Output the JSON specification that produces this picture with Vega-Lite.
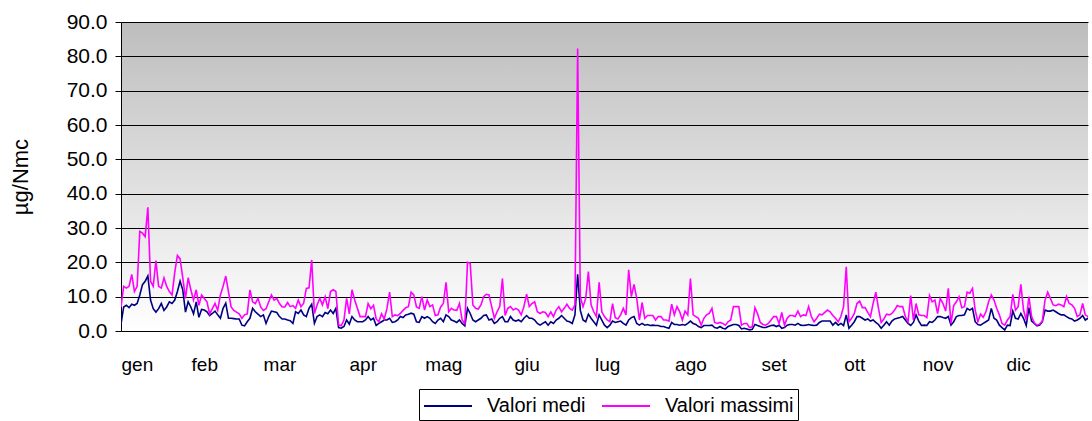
{"$schema":"https://vega.github.io/schema/vega-lite/v6.json","width":967,"height":309,"autosize":"none","padding":{"left":121,"top":22,"right":4,"bottom":90},"background":"white",
"config":{"font":"Liberation Sans","view":{"stroke":null,"fill":{"gradient":"linear","x1":0,"y1":0,"x2":0,"y2":1,"stops":[{"offset":0,"color":"#bdbdbd"},{"offset":1,"color":"#ffffff"}]}}},
"data":{"values":[
{"g":1,"medi":2,"massimi":7},{"g":2,"medi":7,"massimi":13},{"g":3,"medi":7.5,"massimi":12.5},{"g":4,"medi":6.8,"massimi":13},{"g":5,"medi":7.8,"massimi":16.5},{"g":6,"medi":7.5,"massimi":11.5},{"g":7,"medi":8,"massimi":13},{"g":8,"medi":10.5,"massimi":29},{"g":9,"medi":13.5,"massimi":28.5},{"g":10,"medi":14.5,"massimi":27.5},
{"g":11,"medi":16,"massimi":36},{"g":12,"medi":9,"massimi":14.5},{"g":13,"medi":6.5,"massimi":13},{"g":14,"medi":5.5,"massimi":20.5},{"g":15,"medi":6.5,"massimi":13},{"g":16,"medi":8,"massimi":12.5},{"g":17,"medi":6,"massimi":15.5},{"g":18,"medi":7,"massimi":13},{"g":19,"medi":8.5,"massimi":11.5},{"g":20,"medi":8,"massimi":10.5},
{"g":21,"medi":9,"massimi":17},{"g":22,"medi":11.5,"massimi":22},{"g":23,"medi":14.5,"massimi":21},{"g":24,"medi":12,"massimi":15.5},{"g":25,"medi":5.5,"massimi":9.5},{"g":26,"medi":8.5,"massimi":15.5},{"g":27,"medi":7,"massimi":12},{"g":28,"medi":5,"massimi":9},{"g":29,"medi":8.5,"massimi":12},{"g":30,"medi":4,"massimi":7.5},
{"g":31,"medi":6.3,"massimi":10.5},{"g":32,"medi":6.1,"massimi":9.5},{"g":33,"medi":5.6,"massimi":8.5},{"g":34,"medi":4.5,"massimi":5},{"g":35,"medi":5.1,"massimi":6.5},{"g":36,"medi":5.8,"massimi":8},{"g":37,"medi":4.7,"massimi":6},{"g":38,"medi":3.7,"massimi":10.5},{"g":39,"medi":6.6,"massimi":13},{"g":40,"medi":8.1,"massimi":16},
{"g":41,"medi":3.7,"massimi":11.5},{"g":42,"medi":3.7,"massimi":7},{"g":43,"medi":3.6,"massimi":6},{"g":44,"medi":3.5,"massimi":5.5},{"g":45,"medi":3.5,"massimi":5},{"g":46,"medi":1.7,"massimi":3.7},{"g":47,"medi":1.5,"massimi":4.7},{"g":48,"medi":2.7,"massimi":5},{"g":49,"medi":3.7,"massimi":12},{"g":50,"medi":6.6,"massimi":8.5},
{"g":51,"medi":5.6,"massimi":8},{"g":52,"medi":4.9,"massimi":9.5},{"g":53,"medi":4.2,"massimi":7},{"g":54,"medi":4.7,"massimi":6},{"g":55,"medi":2.2,"massimi":6.5},{"g":56,"medi":4.2,"massimi":8.5},{"g":57,"medi":5.8,"massimi":10.5},{"g":58,"medi":5.6,"massimi":9},{"g":59,"medi":5.4,"massimi":9.5},{"g":60,"medi":4.2,"massimi":8},
{"g":61,"medi":3.5,"massimi":7},{"g":62,"medi":3.5,"massimi":7},{"g":63,"medi":3.2,"massimi":8.3},{"g":64,"medi":3,"massimi":7.1},{"g":65,"medi":2.2,"massimi":7.4},{"g":66,"medi":5.6,"massimi":6.6},{"g":67,"medi":5.1,"massimi":9},{"g":68,"medi":6.1,"massimi":7.1},{"g":69,"medi":4.7,"massimi":8.1},{"g":70,"medi":4.2,"massimi":12.4},
{"g":71,"medi":6.6,"massimi":12.6},{"g":72,"medi":7.8,"massimi":20.7},{"g":73,"medi":2.2,"massimi":5.1},{"g":74,"medi":4.2,"massimi":7.6},{"g":75,"medi":4.7,"massimi":9.5},{"g":76,"medi":4.2,"massimi":7.6},{"g":77,"medi":5.4,"massimi":10},{"g":78,"medi":5,"massimi":6.5},{"g":79,"medi":6.1,"massimi":11.5},{"g":80,"medi":5.1,"massimi":12},
{"g":81,"medi":6.6,"massimi":11.5},{"g":82,"medi":1,"massimi":1.8},{"g":83,"medi":0.8,"massimi":1.5},{"g":84,"medi":1.3,"massimi":3.2},{"g":85,"medi":3.2,"massimi":9.5},{"g":86,"medi":2,"massimi":5},{"g":87,"medi":4.2,"massimi":12},{"g":88,"medi":3.2,"massimi":9},{"g":89,"medi":2.7,"massimi":6.6},{"g":90,"medi":2.7,"massimi":4.2},
{"g":91,"medi":2.7,"massimi":4.2},{"g":92,"medi":3.2,"massimi":4.2},{"g":93,"medi":4.2,"massimi":8},{"g":94,"medi":3.2,"massimi":6.5},{"g":95,"medi":3.7,"massimi":7.5},{"g":96,"medi":1.6,"massimi":3.5},{"g":97,"medi":2.2,"massimi":2.7},{"g":98,"medi":2.7,"massimi":5},{"g":99,"medi":3.2,"massimi":3.5},{"g":100,"medi":3.2,"massimi":6.5},
{"g":101,"medi":3.7,"massimi":11.3},{"g":102,"medi":2.5,"massimi":4.2},{"g":103,"medi":2.7,"massimi":4.7},{"g":104,"medi":3.2,"massimi":4.5},{"g":105,"medi":4.2,"massimi":5.1},{"g":106,"medi":3.9,"massimi":6},{"g":107,"medi":4.7,"massimi":6.8},{"g":108,"medi":4.9,"massimi":7.1},{"g":109,"medi":5.2,"massimi":11.3},{"g":110,"medi":4.9,"massimi":10.5},
{"g":111,"medi":2.7,"massimi":7},{"g":112,"medi":2.5,"massimi":6.6},{"g":113,"medi":4.2,"massimi":10},{"g":114,"medi":3.7,"massimi":6.1},{"g":115,"medi":4.2,"massimi":9},{"g":116,"medi":3.7,"massimi":7.1},{"g":117,"medi":2.7,"massimi":7.6},{"g":118,"medi":2.2,"massimi":4.5},{"g":119,"medi":3.2,"massimi":4.7},{"g":120,"medi":3.7,"massimi":7},
{"g":121,"medi":2.7,"massimi":8},{"g":122,"medi":4.7,"massimi":14.2},{"g":123,"medi":4.2,"massimi":5.6},{"g":124,"medi":3.2,"massimi":6.6},{"g":125,"medi":2.9,"massimi":6.1},{"g":126,"medi":2.5,"massimi":6},{"g":127,"medi":3.2,"massimi":8},{"g":128,"medi":2.2,"massimi":3.2},{"g":129,"medi":1.5,"massimi":2.2},{"g":130,"medi":6.6,"massimi":20},
{"g":131,"medi":5.1,"massimi":19.7},{"g":132,"medi":3.2,"massimi":7.6},{"g":133,"medi":2.7,"massimi":6.6},{"g":134,"medi":3.2,"massimi":6.4},{"g":135,"medi":3.7,"massimi":7.6},{"g":136,"medi":4.5,"massimi":10},{"g":137,"medi":4.7,"massimi":10.7},{"g":138,"medi":3.2,"massimi":10.5},{"g":139,"medi":3.5,"massimi":7.1},{"g":140,"medi":2.2,"massimi":3.7},
{"g":141,"medi":2.7,"massimi":5.6},{"g":142,"medi":3.7,"massimi":7.1},{"g":143,"medi":4.2,"massimi":15.3},{"g":144,"medi":2.7,"massimi":4.5},{"g":145,"medi":2.7,"massimi":6.6},{"g":146,"medi":4.2,"massimi":7.1},{"g":147,"medi":3.2,"massimi":6.1},{"g":148,"medi":2.9,"massimi":6.6},{"g":149,"medi":3.2,"massimi":6.1},{"g":150,"medi":2.7,"massimi":4.7},
{"g":151,"medi":3.7,"massimi":7.1},{"g":152,"medi":4.5,"massimi":10.7},{"g":153,"medi":3.7,"massimi":7.1},{"g":154,"medi":3.7,"massimi":8},{"g":155,"medi":3.2,"massimi":8.5},{"g":156,"medi":2.2,"massimi":5.6},{"g":157,"medi":1.7,"massimi":5.1},{"g":158,"medi":2.2,"massimi":5.6},{"g":159,"medi":2.7,"massimi":5.4},{"g":160,"medi":1.7,"massimi":4.2},
{"g":161,"medi":2.7,"massimi":5.6},{"g":162,"medi":2.2,"massimi":4.2},{"g":163,"medi":3.2,"massimi":6.1},{"g":164,"medi":3.7,"massimi":7.1},{"g":165,"medi":4.5,"massimi":5.6},{"g":166,"medi":3.7,"massimi":6.6},{"g":167,"medi":2.9,"massimi":7.8},{"g":168,"medi":2.7,"massimi":6.6},{"g":169,"medi":2.2,"massimi":6.1},{"g":170,"medi":4.7,"massimi":7.6},
{"g":171,"medi":16.5,"massimi":82.3},{"g":172,"medi":6,"massimi":10},{"g":173,"medi":3.2,"massimi":7.1},{"g":174,"medi":2.7,"massimi":9.5},{"g":175,"medi":4.9,"massimi":17.3},{"g":176,"medi":3.7,"massimi":7.6},{"g":177,"medi":2.7,"massimi":5.6},{"g":178,"medi":1.7,"massimi":4.2},{"g":179,"medi":4.7,"massimi":14.2},{"g":180,"medi":3.2,"massimi":5.6},
{"g":181,"medi":1.7,"massimi":4.2},{"g":182,"medi":1,"massimi":3.2},{"g":183,"medi":1.7,"massimi":2.7},{"g":184,"medi":2.9,"massimi":8},{"g":185,"medi":2.5,"massimi":3.9},{"g":186,"medi":2.7,"massimi":3.5},{"g":187,"medi":2.9,"massimi":4.7},{"g":188,"medi":2.2,"massimi":6.6},{"g":189,"medi":1.7,"massimi":4.7},{"g":190,"medi":3.2,"massimi":17.8},
{"g":191,"medi":3.9,"massimi":10},{"g":192,"medi":4.2,"massimi":13.6},{"g":193,"medi":2.2,"massimi":9.5},{"g":194,"medi":1.7,"massimi":3.2},{"g":195,"medi":2.2,"massimi":8.3},{"g":196,"medi":1.7,"massimi":3.7},{"g":197,"medi":1.9,"massimi":4.5},{"g":198,"medi":1.6,"massimi":4.5},{"g":199,"medi":1.7,"massimi":4.5},{"g":200,"medi":1.6,"massimi":3.2},
{"g":201,"medi":1.6,"massimi":4.2},{"g":202,"medi":1.3,"massimi":4.2},{"g":203,"medi":1.3,"massimi":3.2},{"g":204,"medi":1,"massimi":3.2},{"g":205,"medi":0.8,"massimi":2.9},{"g":206,"medi":2.5,"massimi":7.8},{"g":207,"medi":1.9,"massimi":4.7},{"g":208,"medi":1.9,"massimi":7.1},{"g":209,"medi":1.7,"massimi":5.6},{"g":210,"medi":1.9,"massimi":3.2},
{"g":211,"medi":1.7,"massimi":5.8},{"g":212,"medi":2.2,"massimi":4.7},{"g":213,"medi":2.9,"massimi":15.3},{"g":214,"medi":2.2,"massimi":4.7},{"g":215,"medi":1.9,"massimi":4.2},{"g":216,"medi":1.3,"massimi":3.7},{"g":217,"medi":1,"massimi":1.7},{"g":218,"medi":1.6,"massimi":3.7},{"g":219,"medi":1.6,"massimi":4.7},{"g":220,"medi":1.6,"massimi":5.1},
{"g":221,"medi":1.7,"massimi":6.6},{"g":222,"medi":1,"massimi":2.5},{"g":223,"medi":0.8,"massimi":2.2},{"g":224,"medi":1.3,"massimi":2.5},{"g":225,"medi":0.8,"massimi":2.2},{"g":226,"medi":0.6,"massimi":1.7},{"g":227,"medi":1.3,"massimi":2.7},{"g":228,"medi":1.6,"massimi":3.2},{"g":229,"medi":1.9,"massimi":7.1},{"g":230,"medi":1.9,"massimi":7.1},
{"g":231,"medi":1.6,"massimi":7.1},{"g":232,"medi":0.6,"massimi":1.7},{"g":233,"medi":0.8,"massimi":2.2},{"g":234,"medi":0.6,"massimi":2.2},{"g":235,"medi":0.3,"massimi":1},{"g":236,"medi":0.5,"massimi":1.2},{"g":237,"medi":1.9,"massimi":6.8},{"g":238,"medi":1.6,"massimi":5},{"g":239,"medi":1.3,"massimi":2.5},{"g":240,"medi":1,"massimi":1.9},
{"g":241,"medi":1,"massimi":1.7},{"g":242,"medi":1.3,"massimi":2.2},{"g":243,"medi":1.6,"massimi":3.2},{"g":244,"medi":1.7,"massimi":4.2},{"g":245,"medi":1.3,"massimi":4.2},{"g":246,"medi":1.7,"massimi":2.2},{"g":247,"medi":0.8,"massimi":5.4},{"g":248,"medi":1,"massimi":1.7},{"g":249,"medi":1.7,"massimi":3.7},{"g":250,"medi":1.9,"massimi":4.5},
{"g":251,"medi":1.9,"massimi":4.5},{"g":252,"medi":1.7,"massimi":4.2},{"g":253,"medi":2.2,"massimi":5.8},{"g":254,"medi":1.7,"massimi":4.2},{"g":255,"medi":1.6,"massimi":4.7},{"g":256,"medi":1.7,"massimi":4.5},{"g":257,"medi":1.9,"massimi":7.1},{"g":258,"medi":1.7,"massimi":4.2},{"g":259,"medi":1.6,"massimi":2.7},{"g":260,"medi":1.7,"massimi":3.7},
{"g":261,"medi":2.5,"massimi":4.9},{"g":262,"medi":2.9,"massimi":4.7},{"g":263,"medi":2.9,"massimi":5.4},{"g":264,"medi":2.9,"massimi":6.1},{"g":265,"medi":2.9,"massimi":5.6},{"g":266,"medi":1.7,"massimi":4.5},{"g":267,"medi":2.5,"massimi":3.7},{"g":268,"medi":1.7,"massimi":2.7},{"g":269,"medi":2.2,"massimi":4.2},{"g":270,"medi":1.6,"massimi":7.1},
{"g":271,"medi":4.7,"massimi":18.7},{"g":272,"medi":0.8,"massimi":2.7},{"g":273,"medi":1.7,"massimi":3.7},{"g":274,"medi":2.7,"massimi":5.1},{"g":275,"medi":4.2,"massimi":8},{"g":276,"medi":4.2,"massimi":8.7},{"g":277,"medi":3.7,"massimi":6.8},{"g":278,"medi":3.2,"massimi":6.8},{"g":279,"medi":3.5,"massimi":5.4},{"g":280,"medi":2.9,"massimi":4.2},
{"g":281,"medi":3.2,"massimi":8},{"g":282,"medi":2.5,"massimi":11.3},{"g":283,"medi":1.9,"massimi":6.6},{"g":284,"medi":0.8,"massimi":2.5},{"g":285,"medi":1.7,"massimi":3.5},{"g":286,"medi":2.7,"massimi":4.9},{"g":287,"medi":1.7,"massimi":4.7},{"g":288,"medi":2.9,"massimi":5.1},{"g":289,"medi":3.5,"massimi":6.1},{"g":290,"medi":3.7,"massimi":7.4},
{"g":291,"medi":3.9,"massimi":7.1},{"g":292,"medi":4.2,"massimi":7.1},{"g":293,"medi":3.2,"massimi":4.2},{"g":294,"medi":2.2,"massimi":2.7},{"g":295,"medi":1.6,"massimi":10.3},{"g":296,"medi":2.5,"massimi":3.2},{"g":297,"medi":4.7,"massimi":8},{"g":298,"medi":2.9,"massimi":4.7},{"g":299,"medi":1.6,"massimi":4.5},{"g":300,"medi":1.7,"massimi":4.5},
{"g":301,"medi":1.6,"massimi":3.9},{"g":302,"medi":2.7,"massimi":10.3},{"g":303,"medi":2.5,"massimi":8.5},{"g":304,"medi":3.2,"massimi":9},{"g":305,"medi":4.2,"massimi":5.1},{"g":306,"medi":4.2,"massimi":9.5},{"g":307,"medi":3.9,"massimi":8},{"g":308,"medi":3.7,"massimi":5.8},{"g":309,"medi":4.2,"massimi":12.4},{"g":310,"medi":1.7,"massimi":2.2},
{"g":311,"medi":2.7,"massimi":7.4},{"g":312,"medi":4.2,"massimi":8.5},{"g":313,"medi":4.5,"massimi":10},{"g":314,"medi":4.5,"massimi":6.8},{"g":315,"medi":4.7,"massimi":7.1},{"g":316,"medi":6.6,"massimi":11.3},{"g":317,"medi":6.1,"massimi":11},{"g":318,"medi":6.6,"massimi":12.4},{"g":319,"medi":2.7,"massimi":6.1},{"g":320,"medi":1.9,"massimi":2.7},
{"g":321,"medi":1.7,"massimi":4.9},{"g":322,"medi":2.2,"massimi":4},{"g":323,"medi":2.7,"massimi":5.6},{"g":324,"medi":3.2,"massimi":8.5},{"g":325,"medi":6.6,"massimi":10.5},{"g":326,"medi":3.7,"massimi":9},{"g":327,"medi":3.2,"massimi":6.6},{"g":328,"medi":1.7,"massimi":4.7},{"g":329,"medi":1,"massimi":2.2},{"g":330,"medi":0.3,"massimi":1.7},
{"g":331,"medi":1.7,"massimi":3.2},{"g":332,"medi":1.6,"massimi":4.2},{"g":333,"medi":5.8,"massimi":10.7},{"g":334,"medi":3.7,"massimi":6.1},{"g":335,"medi":3.5,"massimi":7.1},{"g":336,"medi":5.1,"massimi":13.6},{"g":337,"medi":3.7,"massimi":6.1},{"g":338,"medi":1.6,"massimi":3.2},{"g":339,"medi":6.8,"massimi":10},{"g":340,"medi":2.9,"massimi":4.2},
{"g":341,"medi":2.2,"massimi":2.4},{"g":342,"medi":1.5,"massimi":1.7},{"g":343,"medi":1.7,"massimi":2},{"g":344,"medi":2.7,"massimi":2.9},{"g":345,"medi":6.1,"massimi":9},{"g":346,"medi":5.8,"massimi":11.3},{"g":347,"medi":5.8,"massimi":9.5},{"g":348,"medi":6.1,"massimi":7.6},{"g":349,"medi":5.6,"massimi":7.4},{"g":350,"medi":5.1,"massimi":7.8},
{"g":351,"medi":4.7,"massimi":7.6},{"g":352,"medi":4.7,"massimi":7.1},{"g":353,"medi":4.2,"massimi":10},{"g":354,"medi":3.7,"massimi":8},{"g":355,"medi":3.5,"massimi":7.6},{"g":356,"medi":2.9,"massimi":6.6},{"g":357,"medi":3.2,"massimi":4.2},{"g":358,"medi":3.7,"massimi":4.7},{"g":359,"medi":4.5,"massimi":8},{"g":360,"medi":3.2,"massimi":4.7},
{"g":361,"medi":3.7,"massimi":4.2},{"g":362,"medi":2.7,"massimi":4}
]},
"transform":[{"fold":["medi","massimi"],"as":["serie","valore"]}],
"mark":{"type":"line","strokeWidth":1.6,"clip":true},
"encoding":{
"x":{"field":"g","type":"quantitative","scale":{"domain":[1,361],"nice":false,"zero":false},
"axis":{"orient":"bottom","offset":22,"domain":false,"ticks":false,"title":null,"grid":false,"values":[1,32,60,91,121,152,182,213,244,274,305,335],"labelExpr":"['gen','feb','mar','apr','mag','giu','lug','ago','set','ott','nov','dic'][indexof([1,32,60,91,121,152,182,213,244,274,305,335], datum.value)]","labelBaseline":"top","labelFontSize":19,"labelColor":"black"}},
"y":{"field":"valore","type":"quantitative","scale":{"domain":[0,90],"nice":false},
"axis":{"title":"µg/Nmc","titleFontSize":22,"titleFontWeight":"normal","titleColor":"black","titlePadding":34,"values":[0,10,20,30,40,50,60,70,80,90],"format":".1f","grid":true,"gridColor":"black","gridOpacity":1,"gridWidth":1,"domainColor":"black","tickColor":"black","tickSize":6,"labelPadding":8,"labelFontSize":21,"labelColor":"black"}},
"color":{"field":"serie","type":"nominal","scale":{"domain":["medi","massimi"],"range":["#000080","#ff00ff"]},
"legend":{"orient":"none","legendX":298,"legendY":367,"direction":"horizontal","title":null,"labelExpr":"datum.label == 'massimi' ? 'Valori massimi' : 'Valori medi'","strokeColor":"black","fillColor":"white","padding":4,"symbolType":"M-3,0H1","symbolSize":576,"symbolOffset":24,"labelOffset":14,"symbolStrokeWidth":2,"labelFontSize":20,"labelColor":"black","columnPadding":12}}
}}
